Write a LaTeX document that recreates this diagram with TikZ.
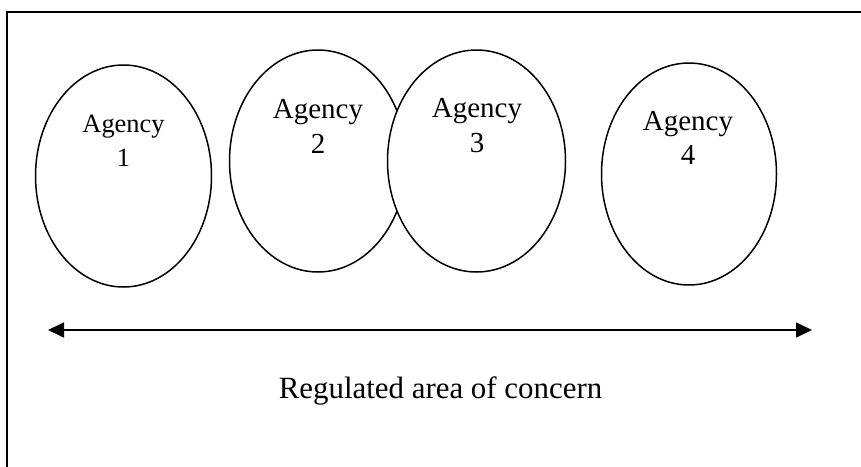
\documentclass[tikz,border=0pt]{standalone}
\usepackage{fontspec}
\setmainfont{Liberation Serif}
\usetikzlibrary{shapes.geometric,arrows.meta}

\tikzset{
  agency/.style={draw, ellipse, fill=white, line width=1.5pt, inner sep=0pt,
    minimum width=#1, minimum height=222pt},
  agencytext/.style={anchor=north, inner sep=0pt, align=center},
  framerule/.style={line width=2pt},
  span/.style={line width=1.6pt, {Triangle[length=16pt,width=15pt]}-{Triangle[length=16pt,width=15pt]}}
}

\begin{document}
\begin{tikzpicture}[x=1pt, y=-1pt]
  \useasboundingbox (0,0) rectangle (861,466);

  % open frame: left and top edges only
  \coordinate (fbl) at (7,467);
  \coordinate (ftl) at (7,12);
  \coordinate (ftr) at (862,12);
  \draw[framerule, line cap=rect] (fbl) -- (ftl) -- (ftr);

  % agencies
  \node[agency=176pt] (a1) at (123.5,176) {};
  \node[agency=177pt] (a2) at (318,161) {};
  \node[agency=178pt] (a3) at (476.5,161) {};
  \node[agency=175pt] (a4) at (689,174) {};

  \node[agencytext, font=\fontsize{26.4}{34}\selectfont] (t1) at (123.5,115) {Agency\\1};
  \node[agencytext, font=\fontsize{29}{34.5}\selectfont] (t2) at (318,99.5) {Agency\\2};
  \node[agencytext, font=\fontsize{29}{34.5}\selectfont] (t3) at (477,98.5) {Agency\\3};
  \node[agencytext, font=\fontsize{29}{34.5}\selectfont] (t4) at (688,111) {Agency\\4};

  % extent of the regulated area
  \coordinate (aleft) at (48,330);
  \coordinate (aright) at (812,330);
  \draw[span] (aleft) -- (aright);

  \node[anchor=base, inner sep=0pt, font=\fontsize{30.9}{36}\selectfont] (area) at (440.5,398)
    {Regulated area of concern};
\end{tikzpicture}
\end{document}
